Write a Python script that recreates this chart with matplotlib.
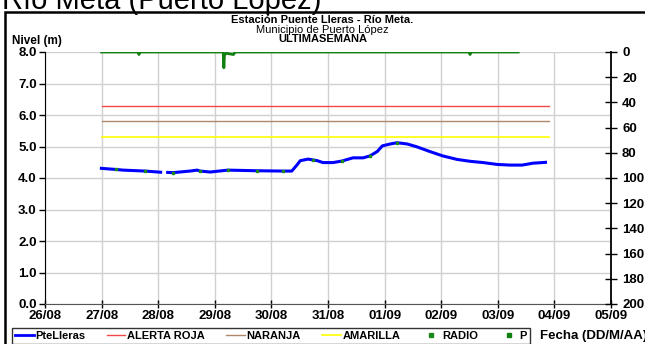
import numpy as np
import matplotlib.pyplot as plt
from matplotlib.lines import Line2D
from matplotlib.patches import Rectangle

plt.rcParams['font.family'] = ['Liberation Sans', 'DejaVu Sans']

# days counted from 26/08 00:00
day_labels = ["26/08", "27/08", "28/08", "29/08", "30/08", "31/08",
              "01/09", "02/09", "03/09", "04/09", "05/09"]

# PteLleras level (m), NaN = gap in record
t_nivel = [0.97, 1.26, 1.38, 1.77, 2.07, 2.10, 2.14, 2.26, 2.56, 2.69, 2.74,
           2.92, 3.23, 3.75, 4.20, 4.36, 4.45, 4.51, 4.65, 4.81, 4.91, 5.09,
           5.25, 5.44, 5.62, 5.74, 5.87, 5.96, 6.10, 6.22, 6.40, 6.57, 6.80,
           7.03, 7.28, 7.51, 7.74, 7.99, 8.22, 8.43, 8.62, 8.87]
nivel = [4.31, 4.27, 4.25, 4.22, 4.18, np.nan, 4.18, 4.17, 4.22, 4.25, 4.22,
         4.19, 4.25, 4.23, 4.22, 4.22, 4.41, 4.55, 4.60, 4.55, 4.49, 4.49,
         4.54, 4.64, 4.64, 4.70, 4.84, 5.02, 5.08, 5.12, 5.08, 4.99, 4.84,
         4.70, 4.59, 4.53, 4.49, 4.43, 4.41, 4.41, 4.47, 4.50]

# radio readings (m)
t_radio = [1.26, 1.77, 2.26, 2.74, 3.23, 3.75, 4.20, 4.73, 5.25, 5.74, 6.22]
radio = [4.27, 4.22, 4.17, 4.22, 4.25, 4.23, 4.22, 4.57, 4.54, 4.70, 5.12]

# precipitation P (right axis, inverted)
t_p = [1.0, 1.64, 1.66, 1.68, 3.15, 3.16, 3.17, 3.20, 3.33, 3.36,
       7.49, 7.51, 7.53, 8.36]
p = [0, 0, 2, 0, 0, 12.5, 2.5, 1, 2, 0, 0, 2, 0, 0]

# alert thresholds (m)
alert_t = [1.0, 8.9]
roja, naranja, amarilla = 6.3, 5.8, 5.3

fig = plt.figure(figsize=(6.45, 3.44), dpi=100)
ax = fig.add_axes([45/645, 1 - 304/344, (611 - 45)/645, (304 - 52)/344])

ax.plot(alert_t, [roja]*2, color='#f04848', lw=1)
ax.plot(alert_t, [naranja]*2, color='#b08868', lw=1)
ax.plot(alert_t, [amarilla]*2, color='#ffff00', lw=1.2)
ax.plot(t_nivel, nivel, color='#0000ff', lw=2.2, solid_capstyle='butt')
ax.plot(t_radio, radio, ls='none', marker='s', ms=2, color='#1a8a1a')

ax.set_xlim(0, 10)
ax.set_ylim(0, 8)
ax.set_xticks(range(11))
ax.set_xticklabels(day_labels, fontweight='bold', fontsize=9.5)
ax.set_yticks(np.arange(0, 9))
ax.set_yticklabels(["%.1f" % v for v in range(9)], fontweight='bold', fontsize=9.5)
ax.grid(True, color='#d0d0d0', lw=1)
ax.set_axisbelow(True)
ax.tick_params(axis='y', direction='out', length=4, width=1, pad=2)
ax.tick_params(axis='x', direction='inout', length=6, width=1, pad=1)
ax.spines['top'].set_visible(False)
ax.spines['right'].set_visible(False)
ax.spines['bottom'].set_color('#555555')

ax2 = ax.twinx()
ax2.plot(t_p, p, color='#108010', lw=2)
ax2.set_ylim(200, 0)
ax2.set_yticks(np.arange(0, 201, 20))
ax2.set_yticklabels([str(v) for v in range(0, 201, 20)], fontweight='bold', fontsize=9.5)
ax2.tick_params(axis='y', direction='inout', length=8, width=1, pad=4)
ax2.spines['top'].set_visible(False)
ax2.spines['left'].set_visible(False)
ax2.spines['bottom'].set_visible(False)
ax2.spines['right'].set_linewidth(1.3)

fig.text(0.003, 1 - 9/344, "Río Meta (Puerto López)", fontsize=21, va='baseline')
fig.text(0.5, 1 - 20/344, "Estación Puente Lleras - Río Meta.", ha='center',
         va='center', fontsize=8, fontweight='bold')
fig.text(0.5, 1 - 30/344, "Municipio de Puerto López", ha='center',
         va='center', fontsize=8)
fig.text(0.5, 1 - 39/344, "ULTIMASEMANA", ha='center', va='center',
         fontsize=8, fontweight='bold')
fig.text(12/645, 1 - 41/344, "Nivel (m)", va='center', fontsize=8.5, fontweight='bold')
fig.text(540/645, 1 - 336/344, "Fecha (DD/M/AA)", va='center', fontsize=9.5,
         fontweight='bold')

handles = [
    Line2D([], [], color='#0000ff', lw=2),
    Line2D([], [], color='#f04848', lw=1),
    Line2D([], [], color='#b08868', lw=1),
    Line2D([], [], color='#ffff00', lw=1.2),
    Line2D([], [], ls='none', marker='s', ms=2.5, color='#1a8a1a'),
    Line2D([], [], ls='none', marker='s', ms=2.5, color='#108010'),
]
names = ["PteLleras", "ALERTA ROJA", "NARANJA", "AMARILLA", "RADIO", "P"]
leg = fig.legend(handles, names, ncol=6, loc='center left',
                 bbox_to_anchor=(12/645, 1 - 336/344),
                 prop={'size': 8, 'weight': 'bold'}, frameon=True,
                 fancybox=False, edgecolor='black', handlelength=1.7,
                 columnspacing=1.9, handletextpad=0.15, borderpad=0.25,
                 borderaxespad=0)
leg.get_frame().set_linewidth(1)

fig.patches.append(Rectangle((5/645, -0.1), 1.0, (344 - 12)/344 + 0.1,
                             transform=fig.transFigure, fill=False,
                             lw=1.8, edgecolor='black'))

fig.savefig("out.png", dpi=100)
